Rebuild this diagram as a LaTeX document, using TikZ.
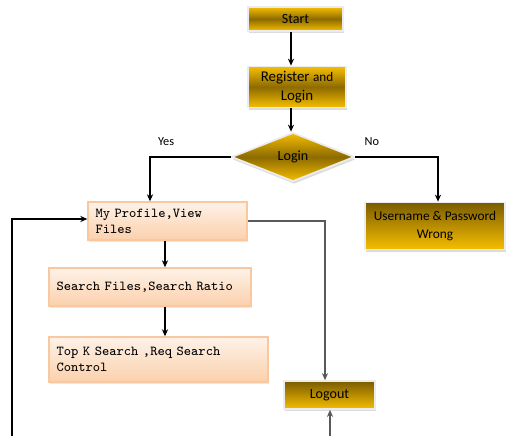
\documentclass[tikz,border=0pt]{standalone}
\usepackage{fontspec}
\setmainfont{Carlito}
\usetikzlibrary{arrows.meta, calc, positioning, shapes.geometric, shadows}
\definecolor{goldlight}{RGB}{246,190,0}
\definecolor{golddark}{RGB}{122,92,0}
\definecolor{peachline}{RGB}{250,200,160}
\definecolor{peachtop}{RGB}{254,242,232}
\definecolor{peachbot}{RGB}{251,208,172}

\begin{document}
\begin{tikzpicture}[
    x=0.02cm, y=-0.02cm,
    goldbox/.style={draw=gray!15, line width=1pt, top color=goldlight, bottom color=goldlight, middle color=golddark!85!goldlight,
        drop shadow={shadow xshift=0.6pt, shadow yshift=-1.4pt, fill=gray!55}, font=\fontsize{8}{10.8}\selectfont, align=center, inner sep=0pt},
    darkbox/.style={goldbox, top color=golddark, middle color=golddark!45!goldlight, bottom color=goldlight},
    peachbox/.style={draw=peachline, line width=0.8pt, top color=peachtop, bottom color=peachbot,
        drop shadow={shadow xshift=0.5pt, shadow yshift=-1pt, fill=gray!35},
        font=\ttfamily\fontsize{7.8}{9}\selectfont, align=left, inner xsep=0.15cm, inner ysep=0pt},
    flow/.style={-{Stealth[length=4pt, width=3.5pt]}, line width=0.6pt},
    tag/.style={font=\fontsize{7}{8}\selectfont},
]
\useasboundingbox (0,0) rectangle (506,436);

% Top of the chart
\node[goldbox, minimum width=1.9cm, minimum height=0.48cm] (start) at (295.5,19) {Start};
\node[goldbox, minimum width=1.96cm, minimum height=0.82cm, font=\fontsize{8.5}{10.8}\selectfont] (reg) at (297,87) {Register {\fontsize{7.5}{8}\selectfont and}\\Login};
\node[goldbox, diamond, minimum width=2.46cm, minimum height=0.98cm] (login) at (293,157) {Login};
\node[darkbox, minimum width=2.8cm, minimum height=0.94cm, font=\fontsize{7.6}{10.8}\selectfont] (wrong) at (435,226) {Username \& Password\\Wrong};

% Left column
\node[peachbox, text width=2.88cm, minimum height=0.76cm] (profile) at (167.5,221) {My Profile,View\\Files};
\node[peachbox, text width=3.74cm, minimum height=0.76cm] (search) at (150,287) {Search Files,Search Ratio};
\node[peachbox, text width=4.08cm, minimum height=0.9cm] (topk) at (158.5,359.5) {Top K Search ,Req Search\\Control};
\node[darkbox, minimum width=1.82cm, minimum height=0.56cm] (logout) at (329.5,395) {Logout};

% Free ends at the bottom edge
\coordinate (leftend) at (12,436);
\coordinate (logend) at (330,436);

% Arrows
\draw[flow] ([xshift=-0.09cm]start.south) -- ([xshift=-0.09cm]start.south |- reg.north);
\draw[flow] ([xshift=-0.09cm]start.south |- reg.south) -- ([xshift=-0.09cm]start.south |- login.north);
\draw[flow] (login.west) -| ([xshift=-0.35cm]profile.north) node[tag, pos=0.4, above=3pt] {Yes};
\draw[flow] (login.east) -| ([xshift=0.06cm]wrong.north) node[tag, pos=0.1, above=3pt] {No};
\draw[flow] ([xshift=-0.05cm]profile.south) -- ([xshift=-0.05cm]profile.south |- search.north);
\draw[flow] ([xshift=-0.05cm]profile.south |- search.south) -- ([xshift=-0.05cm]profile.south |- topk.north);
\draw[flow, black!65] (profile.east) -| ([xshift=-0.09cm]logout.north);
\draw[flow, black!65] (logend) -- (logend |- logout.south);
\draw[flow] (leftend) |- ([yshift=0.04cm]profile.west);

\end{tikzpicture}
\end{document}
